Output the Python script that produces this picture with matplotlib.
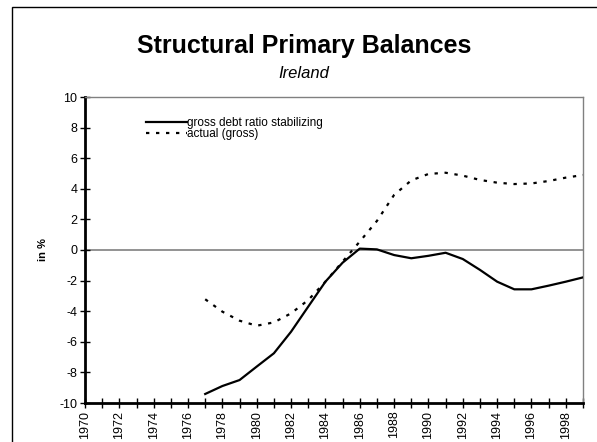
"""Structural primary balances, Ireland: debt-stabilizing vs actual (gross)."""

import matplotlib

matplotlib.use("Agg")
import matplotlib.pyplot as plt
from matplotlib.patches import Rectangle

plt.rcParams["font.family"] = ["Liberation Sans", "DejaVu Sans"]

# Data (percent).
years = list(range(1977, 2000))
stabilizing = [-9.41, -8.89, -8.50, -7.62, -6.75, -5.34, -3.70, -2.07, -0.83, 0.09,
               0.04, -0.33, -0.54, -0.38, -0.18, -0.59, -1.30, -2.07, -2.57, -2.57,
               -2.33, -2.07, -1.79]
actual_gross = [-3.22, -4.03, -4.62, -4.95, -4.73, -4.14, -3.27, -2.07, -0.76, 0.55,
                1.90, 3.60, 4.55, 4.97, 5.05, 4.86, 4.58, 4.40, 4.31, 4.35,
                4.51, 4.73, 4.90]
tick_years = list(range(1970, 2000, 2))

fig = plt.figure(figsize=(5.97, 4.42), dpi=100)
ax = fig.add_axes([85 / 597, 1 - 403 / 442, 498 / 597, 306 / 442])

# Outer chart-area frame (runs off the right and bottom edges).
fig.patches.append(Rectangle((12 / 597, -0.1), 1.2, 1.1 - 7 / 442,
                             transform=fig.transFigure, fill=False,
                             edgecolor="black", linewidth=1.0))

ax.axhline(0, color="#808080", linewidth=1.2, zorder=1)
ax.plot(years, stabilizing, color="black", linewidth=1.6,
        label="gross debt ratio stabilizing", zorder=3)
ax.plot(years, actual_gross, color="black", linewidth=1.6,
        linestyle=(0, (1.5, 3.0)), label="actual (gross)", zorder=3)

ax.set_xlim(1970, 1999)
ax.set_ylim(-10, 10)
ax.set_xticks(range(1970, 2000))
ax.set_xticklabels([str(y) if y in tick_years else "" for y in range(1970, 2000)],
                   rotation=90, fontsize=9)
ax.set_yticks(range(-10, 11, 2))
ax.set_yticklabels([str(v) for v in range(-10, 11, 2)], fontsize=9)
ax.tick_params(axis="both", direction="inout", length=7, width=1.0, pad=2)

for side in ("left", "bottom"):
    ax.spines[side].set_linewidth(2.0)
    ax.spines[side].set_color("black")
for side in ("top", "right"):
    ax.spines[side].set_linewidth(1.0)
    ax.spines[side].set_color("#808080")

ax.set_ylabel("in %", fontsize=8, fontweight="bold", labelpad=8)

leg = ax.legend(loc="upper left", bbox_to_anchor=(0.122, 0.935), frameon=False,
                fontsize=8.5, handlelength=3.5, handletextpad=0.0,
                labelspacing=-0.05, borderpad=0.0, borderaxespad=0.0)

fig.text(304 / 597, 1 - 53 / 442, "Structural Primary Balances", ha="center",
         va="baseline", fontsize=18, fontweight="bold")
fig.text(304 / 597, 1 - 78 / 442, "Ireland", ha="center", va="baseline",
         fontsize=12, style="italic")

fig.savefig("out.png", dpi=100)
